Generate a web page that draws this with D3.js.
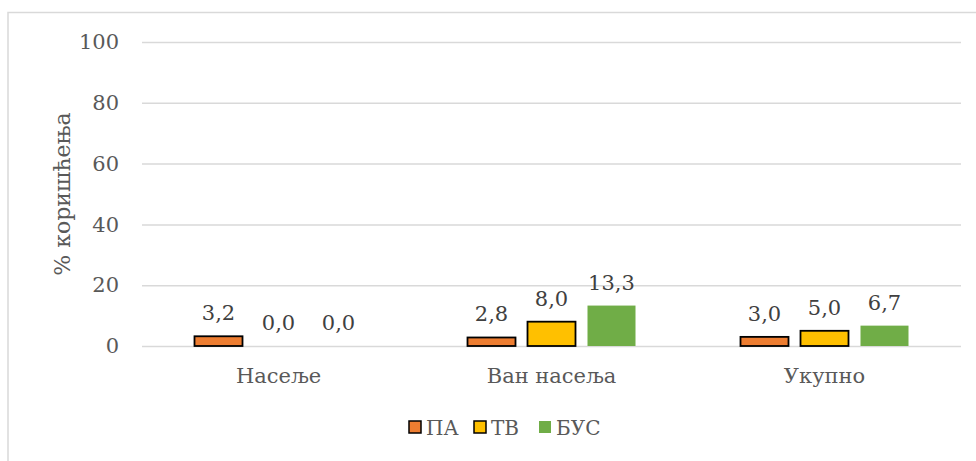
<!DOCTYPE html>
<html>
<head>
<meta charset="utf-8">
<script src="https://cdn.jsdelivr.net/npm/d3@7/dist/d3.min.js"></script>
<style>
  html, body { margin: 0; padding: 0; background: #fff; }
  svg { display: block; }
  text { font-family: "DejaVu Serif", serif; }
</style>
</head>
<body>
<svg id="chart" width="976" height="461"></svg>
<script>
// Share of use by area type
const categories = ["Насеље", "Ван насеља", "Укупно"];
const seriesNames = ["ПА", "ТВ", "БУС"];
const valuesPA  = [3.2, 2.8, 3.0];
const valuesTV  = [0.0, 8.0, 5.0];
const valuesBUS = [0.0, 13.3, 6.7];
const yTicks = [0, 20, 40, 60, 80, 100];
const yTitle = "% коришћења";

const seriesValues = [valuesPA, valuesTV, valuesBUS];
const colors = ["#ED7D31", "#FFC000", "#70AD47"];
const strokes = ["#000", "#000", "none"];
const FONT = "DejaVu Serif, serif";
const FS = "21px";

const svg = d3.select("#chart");
const W = 976, H = 461;
const plot = { left: 142, right: 961, top: 42, bottom: 346 };

// outer frame (top and left edges visible)
svg.append("path")
  .attr("d", `M8,${H} L8,12.5 L${W},12.5`)
  .attr("fill", "none")
  .attr("stroke", "#d9d9d9")
  .attr("stroke-width", 1.5);

const x0 = d3.scaleBand().domain(categories).range([plot.left, plot.right]).paddingInner(0).paddingOuter(0);
const y = d3.scaleLinear().domain([0, 100]).range([plot.bottom, plot.top]);

// bars 48px wide, 12px gap, centred in each band
const barW = 48, gap = 12;
const groupW = seriesNames.length * barW + (seriesNames.length - 1) * gap;
const x1 = d3.scaleBand().domain(seriesNames)
  .range([0, groupW]).paddingInner(gap / (barW + gap)).paddingOuter(0);

// gridlines
const yAxis = d3.axisLeft(y).tickValues(yTicks).tickSize(-(plot.right - plot.left)).tickPadding(23).tickFormat(d3.format("d"));
const gy = svg.append("g").attr("transform", `translate(${plot.left},0)`).call(yAxis);
gy.select(".domain").remove();
gy.selectAll(".tick line").attr("stroke", "#d9d9d9").attr("stroke-width", 1.5);
gy.selectAll(".tick text")
  .attr("fill", "#595959")
  .attr("font-family", FONT)
  .attr("font-size", FS);

// y title
svg.append("text")
  .attr("transform", `translate(70,${(plot.top + plot.bottom) / 2}) rotate(-90)`)
  .attr("text-anchor", "middle")
  .attr("fill", "#595959")
  .attr("font-family", FONT)
  .attr("font-size", "22px")
  .text(yTitle);

// x category labels
const xAxis = d3.axisBottom(x0).tickSize(0).tickPadding(22);
const gx = svg.append("g").attr("transform", `translate(0,${plot.bottom})`).call(xAxis);
gx.select(".domain").remove();
gx.selectAll(".tick text")
  .attr("fill", "#595959")
  .attr("font-family", FONT)
  .attr("font-size", FS);

// bars + value labels
const groups = svg.append("g").selectAll("g")
  .data(categories)
  .join("g")
  .attr("transform", c => `translate(${x0(c) + (x0.bandwidth() - groupW) / 2},0)`);

groups.each(function (c, ci) {
  const g = d3.select(this);
  seriesNames.forEach((s, si) => {
    const v = seriesValues[si][ci];
    if (v > 0) {
      g.append("rect")
        .attr("x", x1(s))
        .attr("y", y(v))
        .attr("width", x1.bandwidth())
        .attr("height", y(0) - y(v))
        .attr("fill", colors[si])
        .attr("stroke", strokes[si])
        .attr("stroke-width", strokes[si] === "none" ? 0 : 1.8);
    }
    g.append("text")
      .attr("x", x1(s) + x1.bandwidth() / 2)
      .attr("y", y(v) - 16)
      .attr("text-anchor", "middle")
      .attr("fill", "#404040")
      .attr("font-family", FONT)
      .attr("font-size", FS)
      .text(d3.format(".1f")(v).replace(".", ","));
  });
});

// legend
const legend = svg.append("g").attr("transform", "translate(409,427)");
const legendX = [0, 65, 130];
seriesNames.forEach((s, i) => {
  const lg = legend.append("g").attr("transform", `translate(${legendX[i]},0)`);
  lg.append("rect")
    .attr("x", 0).attr("y", -6)
    .attr("width", 12).attr("height", 12)
    .attr("fill", colors[i])
    .attr("stroke", strokes[i])
    .attr("stroke-width", strokes[i] === "none" ? 0 : 1.5);
  lg.append("text")
    .attr("x", 17).attr("y", 7.5)
    .attr("fill", "#595959")
    .attr("font-family", FONT)
    .attr("font-size", "20px")
    .text(s);
});
</script>
</body>
</html>
